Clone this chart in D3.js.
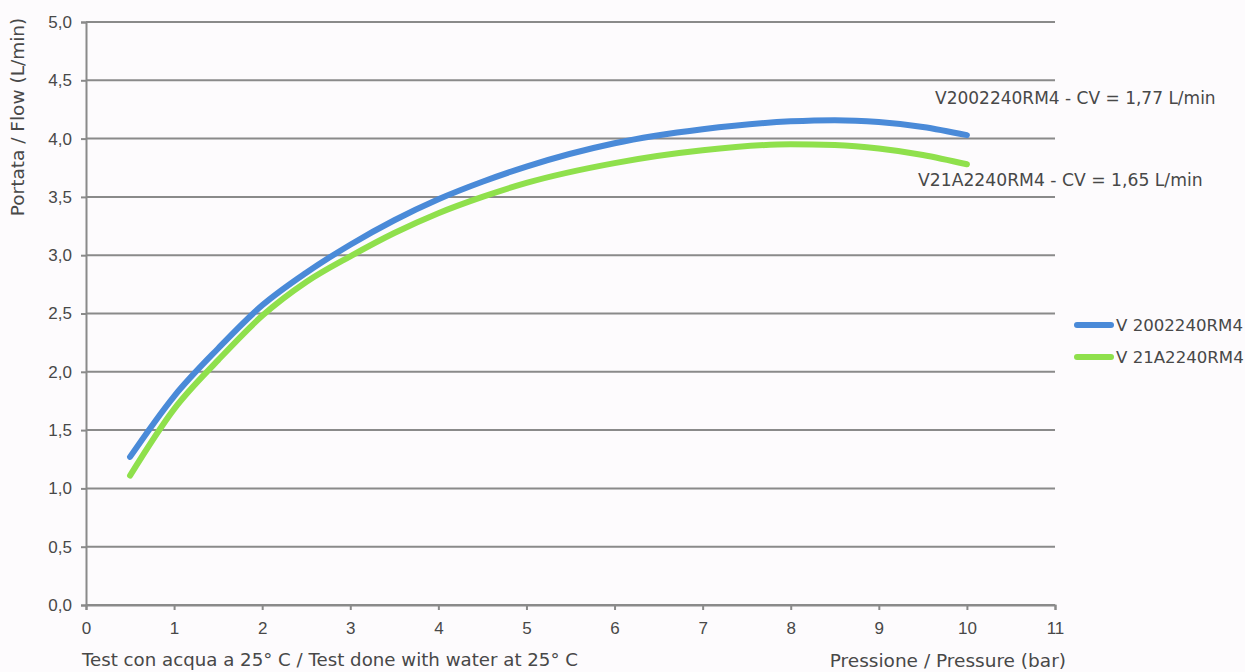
<!DOCTYPE html>
<html><head><meta charset="utf-8">
<script src="https://cdn.jsdelivr.net/npm/d3@7"></script>
<style>
html,body{margin:0;padding:0;background:#fdfbfd;}
svg{display:block;font-family:"DejaVu Sans",sans-serif;}
</style></head>
<body><svg id="c" width="1245" height="672"></svg>
<script>
const pressure = [0.5, 1, 1.5, 2, 2.5, 3, 3.5, 4, 4.5, 5, 6, 7, 8, 8.5, 9, 9.5, 10];
const flowV2002240RM4 = [1.27, 1.79, 2.2, 2.57, 2.85, 3.09, 3.30, 3.48, 3.63, 3.76, 3.96, 4.08, 4.148, 4.158, 4.142, 4.10, 4.03];
const flowV21A2240RM4 = [1.11, 1.68, 2.1, 2.48, 2.77, 2.99, 3.19, 3.36, 3.50, 3.62, 3.79, 3.90, 3.952, 3.945, 3.915, 3.86, 3.78];
const seriesNames = ["V 2002240RM4", "V 21A2240RM4"];
const annotations = ["V2002240RM4 - CV = 1,77 L/min", "V21A2240RM4 - CV = 1,65 L/min"];
const colors = ["#4a8ad8", "#8fe04c"];
const xTicks = [0,1,2,3,4,5,6,7,8,9,10,11];
const yTicks = [0,0.5,1,1.5,2,2.5,3,3.5,4,4.5,5];
const yTitle = "Portata / Flow (L/min)";
const xTitle = "Pressione / Pressure (bar)";
const note = "Test con acqua a 25° C / Test done with water at 25° C";

const svg = d3.select("#c");
const x = d3.scaleLinear().domain([0, 11]).range([86, 1055]);
const y = d3.scaleLinear().domain([0, 5]).range([605, 22]);
const fmt = d => d.toFixed(1).replace(".", ",");
const txt = "#484848", grid = "#8a8a8a";

// gridlines
svg.append("g").selectAll("line").data(yTicks).join("line")
  .attr("x1", x(0)).attr("x2", x(11))
  .attr("y1", d => y(d)).attr("y2", d => y(d))
  .attr("stroke", grid).attr("stroke-width", 2);

// y axis
const ya = svg.append("g").attr("transform", `translate(${x(0)},0)`)
  .call(d3.axisLeft(y).tickValues(yTicks).tickFormat(fmt).tickSize(5).tickPadding(9));
ya.select(".domain").attr("stroke", grid).attr("stroke-width", 2);
ya.selectAll(".tick line").attr("stroke", grid).attr("stroke-width", 2);
ya.selectAll("text").attr("fill", txt).style("font-size", "17px").style("font-family", "inherit");

// x axis
const xa = svg.append("g").attr("transform", `translate(0,${y(0)})`)
  .call(d3.axisBottom(x).tickValues(xTicks).tickFormat(d3.format("d")).tickSize(5).tickPadding(12));
xa.select(".domain").attr("stroke", grid).attr("stroke-width", 2);
xa.selectAll(".tick line").attr("stroke", grid).attr("stroke-width", 2);
xa.selectAll("text").attr("fill", txt).style("font-size", "17px").style("font-family", "inherit");

// curves
const line = d3.line().x(d => x(d[0])).y(d => y(d[1])).curve(d3.curveMonotoneX);
[flowV21A2240RM4, flowV2002240RM4].forEach((vals, i) => {
  const idx = 1 - i;
  svg.append("path").datum(pressure.map((p, k) => [p, vals[k]]))
    .attr("d", line).attr("fill", "none")
    .attr("stroke", colors[idx]).attr("stroke-width", 6).attr("stroke-linecap", "round");
});

// annotations
svg.append("text").attr("x", 935).attr("y", 104).attr("fill", txt).style("font-size", "17px").text(annotations[0]);
svg.append("text").attr("x", 918).attr("y", 186).attr("fill", txt).style("font-size", "17.2px").text(annotations[1]);

// legend
seriesNames.forEach((n, i) => {
  const ly = 325 + i * 32;
  svg.append("line").attr("x1", 1077).attr("x2", 1111).attr("y1", ly).attr("y2", ly)
    .attr("stroke", colors[i]).attr("stroke-width", 6).attr("stroke-linecap", "round");
  svg.append("text").attr("x", 1116).attr("y", ly + 6).attr("fill", txt).style("font-size", "16.6px").text(n);
});

// titles
svg.append("text").attr("transform", "translate(24,117) rotate(-90)").attr("text-anchor", "middle")
  .attr("fill", txt).style("font-size", "18.5px").text(yTitle);
svg.append("text").attr("x", 1066).attr("y", 667).attr("text-anchor", "end")
  .attr("fill", txt).style("font-size", "18.5px").text(xTitle);
svg.append("text").attr("x", 82).attr("y", 666)
  .attr("fill", txt).style("font-size", "18.2px").text(note);
</script></body></html>
